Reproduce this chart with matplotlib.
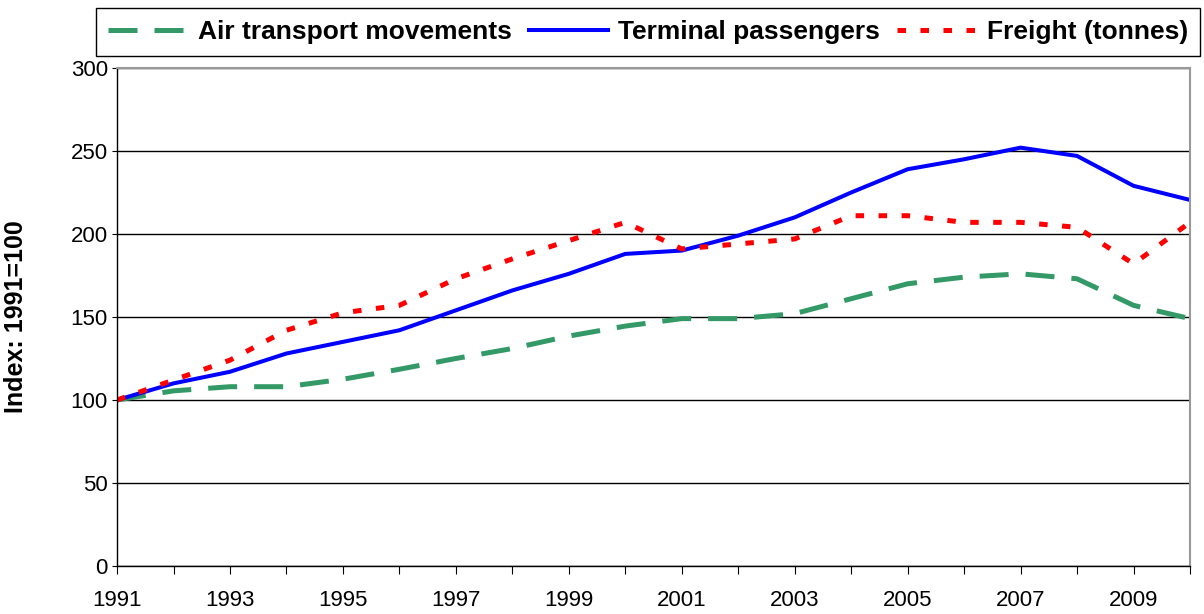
import matplotlib.pyplot as plt
import numpy as np

years = list(range(1991, 2011))
air_transport = [100, 105.5, 108, 108, 112.5, 118.5, 125, 131, 138.5, 144.5,
                 149, 149, 152, 161, 170, 174, 176, 173, 157, 149]
passengers = [100, 110, 117, 128, 135, 142, 154, 166, 176, 188,
              190, 199, 210, 225, 239, 245, 252, 247, 229, 220.5]
freight = [100, 112, 124, 142, 152.5, 157, 173, 185, 196, 207,
           191, 194, 197, 211, 211, 207, 207, 204, 182, 207]
y_ticks = [0, 50, 100, 150, 200, 250, 300]

plt.rcParams['font.family'] = ['Liberation Sans', 'DejaVu Sans']


def plot_index():
    fig = plt.figure(figsize=(12.04, 6.14), dpi=100)
    ax = fig.add_axes([0.0972, 0.0782, 0.8912, 0.8111])

    ax.plot(years, air_transport, color='#339966', linewidth=3.6,
            dashes=(5.8, 3.4), label='Air transport movements')
    ax.plot(years, passengers, color='#0000ff', linewidth=2.9,
            label='Terminal passengers')
    ax.plot(years, freight, color='#ff0000', linewidth=3.6,
            dashes=(1.7, 2.9), label='Freight (tonnes)')

    ax.set_xlim(1991, 2010)
    ax.set_ylim(0, 300)
    ax.set_yticks(y_ticks)
    ax.set_xticks(years)
    ax.set_xticklabels([str(y) if y % 2 == 1 else '' for y in years])
    ax.yaxis.grid(True, color='black', linewidth=1)
    ax.set_axisbelow(True)

    for s in ['top', 'right']:
        ax.spines[s].set_color('#999999')
        ax.spines[s].set_linewidth(1.5)
    for s in ['left', 'bottom']:
        ax.spines[s].set_color('black')
        ax.spines[s].set_linewidth(1)

    ax.tick_params(axis='x', direction='out', length=6, pad=11, labelsize=16)
    ax.tick_params(axis='y', direction='out', length=3.6, pad=3, labelsize=16)
    ax.set_ylabel('Index: 1991=100', fontsize=18, fontweight='bold')
    ax.yaxis.set_label_coords(-0.083, 0.5)

    leg = fig.legend(loc='upper left', bbox_to_anchor=(96 / 1204, 1 - 8 / 614),
                     ncol=3, fancybox=False, edgecolor='black',
                     framealpha=1, prop={'size': 19, 'weight': 'bold'},
                     handlelength=3.0, handletextpad=0.4, columnspacing=0.65,
                     borderpad=0.45, borderaxespad=0)
    leg.get_frame().set_linewidth(1)

    fig.savefig('out.png', dpi=100)


if __name__ == "__main__":
    plot_index()
